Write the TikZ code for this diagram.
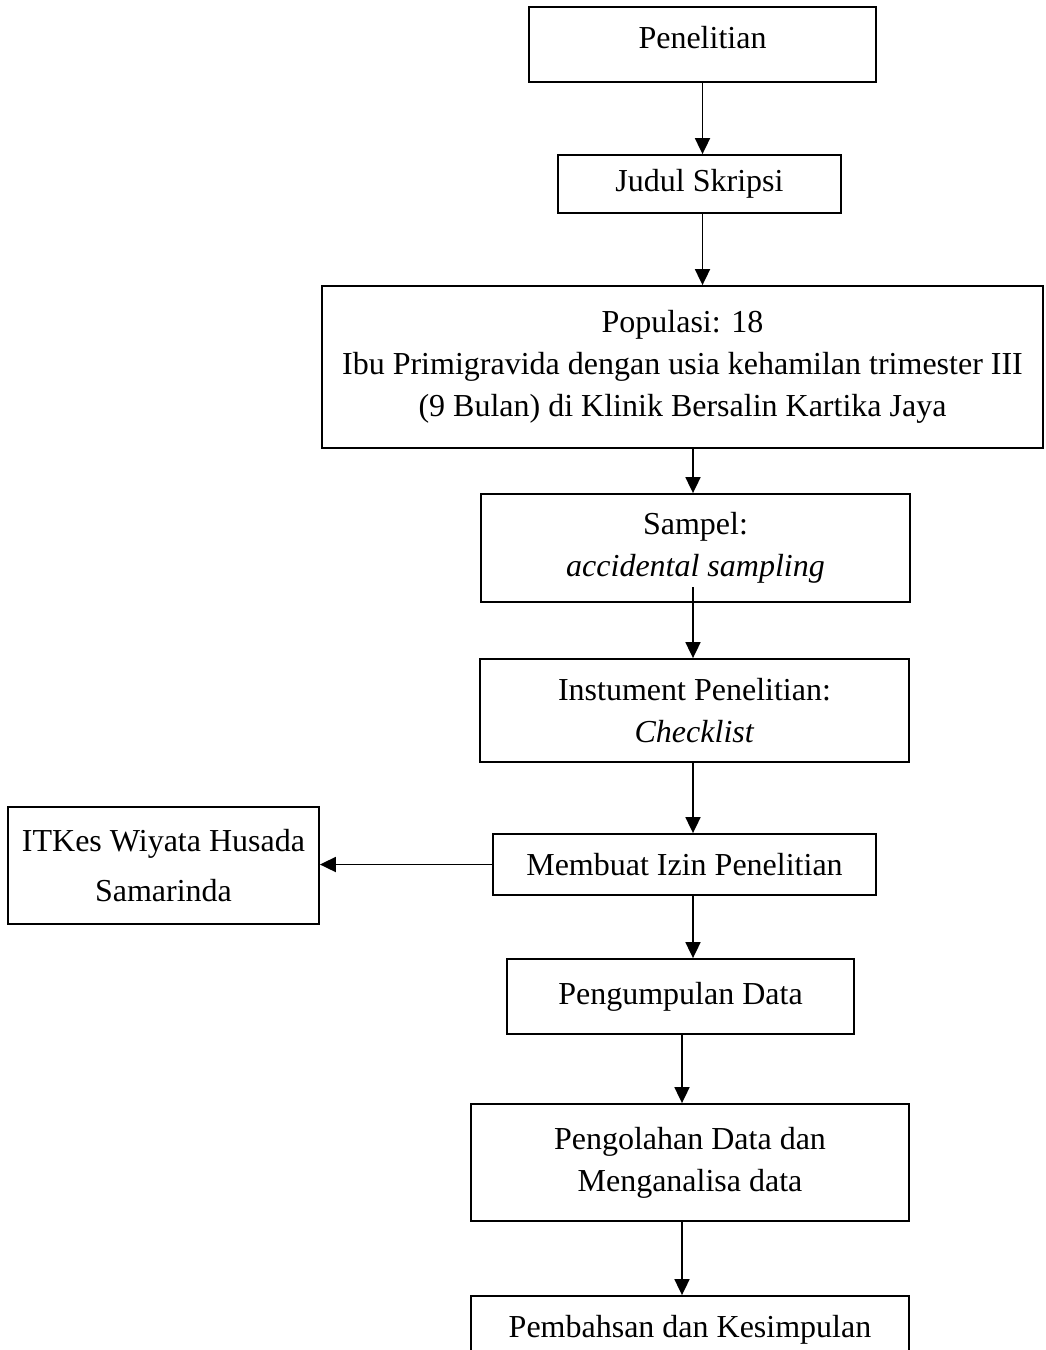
\documentclass[tikz,border=0pt]{standalone}
\usepackage{fontspec}
\setmainfont{Liberation Serif}
\usetikzlibrary{arrows.meta}

\begin{document}
\begin{tikzpicture}[
    x=1pt, y=-1pt, % satuan piksel, sumbu y ke bawah
    font=\fontsize{32}{42}\selectfont,
    box/.style={draw, line width=1.8pt, inner sep=0pt, align=center},
    arr/.style={line width=1.8pt, -{Triangle[length=16pt, width=15pt]}}
    ]
    % --- bidang gambar ---
    \useasboundingbox (0,0) rectangle (1045,1350);
    \clip (0,0) rectangle (1045,1350);

    % garis bantu vertikal untuk panah
    \coordinate (spine) at (693,0);
    \coordinate (spineb) at (682,0);

    % 1. kotak alur utama
    \node[box, minimum width=347pt, minimum height=75pt, text depth=14pt] (pen) at (702.5,44.5) {Penelitian};
    \node[box, minimum width=283pt, minimum height=58pt] (judul) at (699.5,184) {Judul Skripsi};
    \node[box, minimum width=721pt, minimum height=162pt] (pop) at (682.5,367)
        {Populasi: 18\\Ibu Primigravida dengan usia kehamilan trimester III\\(9 Bulan) di Klinik Bersalin Kartika Jaya};
    \node[box, minimum width=429pt, minimum height=108pt] (sampel) at (695.5,548)
        {Sampel:\\\textit{accidental sampling}};
    \node[box, minimum width=429pt, minimum height=103pt] (instr) at (694.5,710.5)
        {Instument Penelitian:\\\textit{Checklist}};
    \node[box, minimum width=383pt, minimum height=61pt] (izin) at (684.5,864.5) {Membuat Izin Penelitian};
    \node[box, minimum width=347pt, minimum height=75pt] (kumpul) at (680.5,996.5) {Pengumpulan Data};
    \node[box, minimum width=438pt, minimum height=117pt] (olah) at (690,1162.5)
        {Pengolahan Data dan\\Menganalisa data};
    \node[box, minimum width=438pt, minimum height=68pt] (bahas) at (690,1330) {Pembahsan dan Kesimpulan};

    % 2. kotak samping
    \node[box, minimum width=311pt, minimum height=117pt, font=\fontsize{32}{50}\selectfont] (itkes)
        at (163.5,865.5) {ITKes Wiyata Husada\\Samarinda};

    % 3. panah
    \coordinate (sampelkaki) at (693,587);
    \draw[arr] (pen.south) -- (pen.south |- judul.north);
    \draw[arr] (judul.south -| pen.south) -- (pop.north -| pen.south);
    \draw[arr] (pop.south -| spine) -- (sampel.north -| spine);
    \draw[arr] (sampelkaki) -- (instr.north -| spine);
    \draw[arr] (instr.south -| spine) -- (izin.north -| spine);
    \draw[arr] (izin.west) -- (izin.west -| itkes.east);
    \draw[arr] (izin.south -| spine) -- (kumpul.north -| spine);
    \draw[arr] (kumpul.south -| spineb) -- (olah.north -| spineb);
    \draw[arr] (olah.south -| spineb) -- (bahas.north -| spineb);

\end{tikzpicture}
\end{document}
